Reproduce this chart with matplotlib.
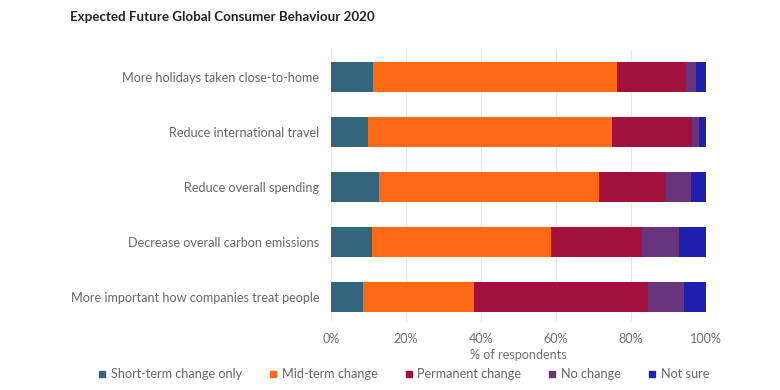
import numpy as np
import matplotlib
matplotlib.use("Agg")
import matplotlib.pyplot as plt
from matplotlib.lines import Line2D

# survey answers, top bar first
questions = [
    "More holidays taken close-to-home",
    "Reduce international travel",
    "Reduce overall spending",
    "Decrease overall carbon emissions",
    "More important how companies treat people",
]
series = ["Short-term change only", "Mid-term change", "Permanent change", "No change", "Not sure"]
short_term = [11.1, 9.8, 12.9, 11.0, 8.4]
mid_term = [65.2, 65.1, 58.5, 47.6, 29.8]
permanent = [18.4, 21.3, 17.8, 24.4, 46.2]
no_change = [2.7, 2.0, 6.7, 9.8, 9.6]
not_sure = [2.6, 1.8, 4.1, 7.2, 6.0]
xticks = [0, 20, 40, 60, 80, 100]

colors = ["#33657f", "#fe6914", "#a2113b", "#68347c", "#1d21ad"]

plt.rcParams['font.family'] = ['Lato', 'DejaVu Sans']
fs = 9.1

fig = plt.figure(figsize=(7.8, 3.9), dpi=100)
ax = fig.add_axes([331 / 780, 1 - 322 / 390, 375 / 780, 272 / 390])

y = np.arange(len(questions))
left = np.zeros(len(questions))
for vals, col, name in zip([short_term, mid_term, permanent, no_change, not_sure], colors, series):
    ax.barh(y, vals, left=left, height=0.545, color=col, label=name, zorder=3)
    left = left + np.array(vals)

ax.set_ylim(4.455, -0.49)
ax.set_xlim(0, 100)
ax.set_yticks(y)
ax.set_yticklabels(questions, fontsize=fs, color="#666666")
ax.set_xticks(xticks)
ax.set_xticklabels([str(t) + "%" for t in xticks], fontsize=fs, color="#707070")
ax.tick_params(axis="y", length=0, pad=8.6)
ax.tick_params(axis="x", length=0, pad=8)
ax.grid(axis="x", color="#e8e8e8", linewidth=0.8, zorder=0)
for s in ax.spines.values():
    s.set_visible(False)
ax.set_xlabel("% of respondents", fontsize=fs, color="#707070", labelpad=3)

fig.text(70 / 780, 1 - 17 / 390, "Expected Future Global Consumer Behaviour 2020",
         fontsize=9.6, fontweight="bold", color="#222222", va="center")

handles = [Line2D([], [], marker="s", linestyle="", markersize=4.3, color=c) for c in colors]
fig.legend(handles, series, loc="center left", bbox_to_anchor=(97 / 780, 1 - 374 / 390),
           ncol=5, frameon=False, fontsize=fs, handletextpad=0.3, columnspacing=2.05,
           handlelength=0.8, borderpad=0, borderaxespad=0, labelcolor="#666666")

fig.savefig("out.png", dpi=100)
